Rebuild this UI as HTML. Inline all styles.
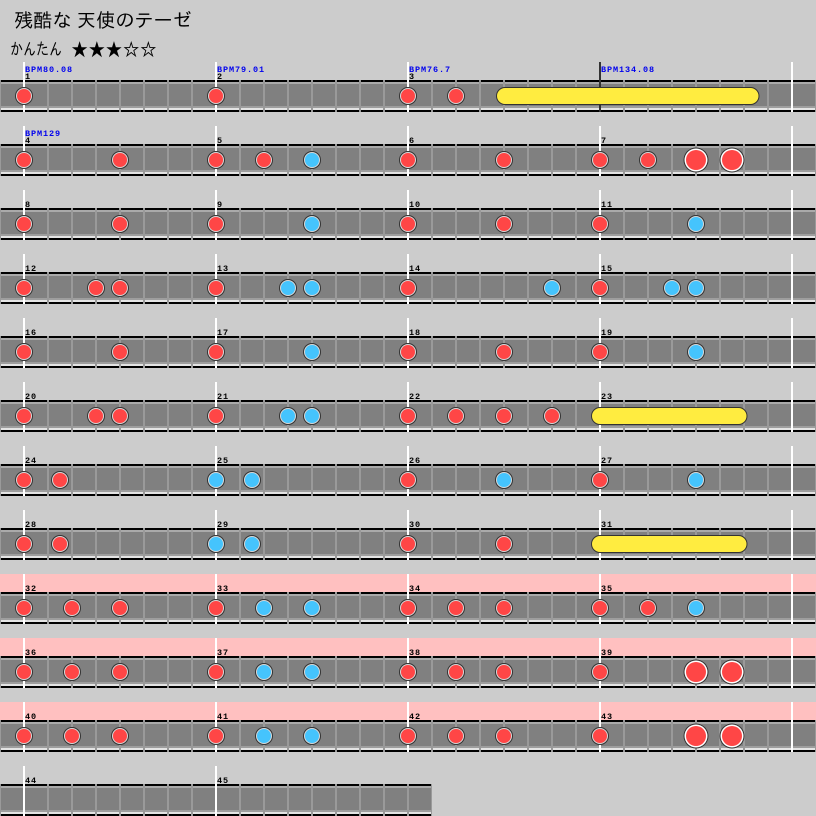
<!DOCTYPE html>
<html><head><meta charset="utf-8"><style>
html,body{margin:0;padding:0;background:#cccccc;}
svg{display:block}
.m{font-family:"Liberation Mono",monospace;font-size:8.5px;font-weight:bold;letter-spacing:0.9px;fill:#000}
.bp{font-family:"Liberation Mono",monospace;font-size:8.5px;font-weight:bold;letter-spacing:0.9px;fill:#0000ee}
.t{font-family:"Liberation Sans","IPAGothic","Noto Sans CJK JP",sans-serif;fill:#000}
</style></head><body>
<svg width="816" height="816" viewBox="0 0 816 816" xmlns="http://www.w3.org/2000/svg">
<defs>
<g id="lane">
<rect x="0" y="0" width="816" height="2" fill="#000"/>
<rect x="0" y="2" width="816" height="2" fill="#aaaaaa"/>
<rect x="0" y="4" width="816" height="22" fill="#808080"/>
<rect x="0" y="26" width="816" height="2" fill="#9e9e9e"/>
<rect x="0" y="28" width="816" height="2" fill="#e4e4e4"/>
<rect x="0" y="30" width="816" height="2" fill="#000"/>
<path d="M0 0V32M24 0V32M48 0V32M72 0V32M96 0V32M120 0V32M144 0V32M168 0V32M192 0V32M216 0V32M240 0V32M264 0V32M288 0V32M312 0V32M336 0V32M360 0V32M384 0V32M408 0V32M432 0V32M456 0V32M480 0V32M504 0V32M528 0V32M552 0V32M576 0V32M600 0V32M624 0V32M648 0V32M672 0V32M696 0V32M720 0V32M744 0V32M768 0V32M792 0V32M816 0V32" stroke="#9a9a9a" stroke-width="2"/>
</g>
<path id="bars" d="M24 -18V32M216 -18V32M408 -18V32M600 -18V32M792 -18V32" stroke="#fff" stroke-width="2"/>
<g id="r"><circle r="9" fill="#333"/><circle r="8" fill="#d8d8d8"/><circle r="7" fill="#ff4646"/></g>
<g id="b"><circle r="9" fill="#333"/><circle r="8" fill="#d8d8d8"/><circle r="7" fill="#45c4fd"/></g>
<g id="R"><circle r="12.5" fill="#333"/><circle r="11.5" fill="#ffffff"/><circle r="10" fill="#ff4646"/></g>
<clipPath id="c13"><rect x="0" y="0" width="432" height="816"/></clipPath>
</defs>

<rect x="0" y="0" width="816" height="816" fill="#cccccc"/>

<!-- title -->
<text class="t" x="14" y="27" font-size="19" textLength="178" lengthAdjust="spacingAndGlyphs">残酷な 天使のテーゼ</text>
<text class="t" x="10" y="55" font-size="17" textLength="52" lengthAdjust="spacingAndGlyphs">かんたん</text>
<text class="t" x="71" y="56" font-size="18" textLength="86" lengthAdjust="spacingAndGlyphs">★★★☆☆</text>

<!-- pink gogo bands -->
<rect x="0" y="574" width="816" height="18" fill="#ffc0c0"/>
<rect x="0" y="638" width="816" height="18" fill="#ffc0c0"/>
<rect x="0" y="702" width="816" height="18" fill="#ffc0c0"/>

<!-- lanes -->
<use href="#lane" x="0" y="80"/>
<use href="#lane" x="0" y="144"/>
<use href="#lane" x="0" y="208"/>
<use href="#lane" x="0" y="272"/>
<use href="#lane" x="0" y="336"/>
<use href="#lane" x="0" y="400"/>
<use href="#lane" x="0" y="464"/>
<use href="#lane" x="0" y="528"/>
<use href="#lane" x="0" y="592"/>
<use href="#lane" x="0" y="656"/>
<use href="#lane" x="0" y="720"/>
<g clip-path="url(#c13)"><use href="#lane" x="0" y="784"/></g>

<!-- bar lines -->
<path d="M24 62V112M216 62V112M408 62V112M792 62V112" stroke="#fff" stroke-width="2"/>
<path d="M600 62V112" stroke="#333" stroke-width="2"/>
<use href="#bars" x="0" y="144"/>
<use href="#bars" x="0" y="208"/>
<use href="#bars" x="0" y="272"/>
<use href="#bars" x="0" y="336"/>
<use href="#bars" x="0" y="400"/>
<use href="#bars" x="0" y="464"/>
<use href="#bars" x="0" y="528"/>
<use href="#bars" x="0" y="592"/>
<use href="#bars" x="0" y="656"/>
<use href="#bars" x="0" y="720"/>
<path d="M24 766V816M216 766V816" stroke="#fff" stroke-width="2"/>

<!-- labels -->
<text class="bp" x="25" y="72">BPM80.08</text>
<text class="bp" x="217" y="72">BPM79.01</text>
<text class="bp" x="409" y="72">BPM76.7</text>
<text class="bp" x="601" y="72">BPM134.08</text>
<text class="m" x="25" y="79">1</text>
<text class="m" x="217" y="79">2</text>
<text class="m" x="409" y="79">3</text>

<text class="bp" x="25" y="136">BPM129</text>
<text class="m" x="25" y="143">4</text><text class="m" x="217" y="143">5</text><text class="m" x="409" y="143">6</text><text class="m" x="601" y="143">7</text>
<text class="m" x="25" y="207">8</text><text class="m" x="217" y="207">9</text><text class="m" x="409" y="207">10</text><text class="m" x="601" y="207">11</text>
<text class="m" x="25" y="271">12</text><text class="m" x="217" y="271">13</text><text class="m" x="409" y="271">14</text><text class="m" x="601" y="271">15</text>
<text class="m" x="25" y="335">16</text><text class="m" x="217" y="335">17</text><text class="m" x="409" y="335">18</text><text class="m" x="601" y="335">19</text>
<text class="m" x="25" y="399">20</text><text class="m" x="217" y="399">21</text><text class="m" x="409" y="399">22</text><text class="m" x="601" y="399">23</text>
<text class="m" x="25" y="463">24</text><text class="m" x="217" y="463">25</text><text class="m" x="409" y="463">26</text><text class="m" x="601" y="463">27</text>
<text class="m" x="25" y="527">28</text><text class="m" x="217" y="527">29</text><text class="m" x="409" y="527">30</text><text class="m" x="601" y="527">31</text>
<text class="m" x="25" y="591">32</text><text class="m" x="217" y="591">33</text><text class="m" x="409" y="591">34</text><text class="m" x="601" y="591">35</text>
<text class="m" x="25" y="655">36</text><text class="m" x="217" y="655">37</text><text class="m" x="409" y="655">38</text><text class="m" x="601" y="655">39</text>
<text class="m" x="25" y="719">40</text><text class="m" x="217" y="719">41</text><text class="m" x="409" y="719">42</text><text class="m" x="601" y="719">43</text>
<text class="m" x="25" y="783">44</text><text class="m" x="217" y="783">45</text>

<!-- rolls -->
<rect x="496.5" y="87.5" width="262.5" height="17" rx="8.5" fill="#ffec40" stroke="#333" stroke-width="1"/>
<rect x="591.5" y="407.5" width="155.5" height="17" rx="8.5" fill="#ffec40" stroke="#333" stroke-width="1"/>
<rect x="591.5" y="535.5" width="155.5" height="17" rx="8.5" fill="#ffec40" stroke="#333" stroke-width="1"/>

<!-- row 0 -->
<use href="#r" x="24" y="96"/><use href="#r" x="216" y="96"/><use href="#r" x="408" y="96"/><use href="#r" x="456" y="96"/>
<!-- row 1 -->
<use href="#r" x="24" y="160"/><use href="#r" x="120" y="160"/><use href="#r" x="216" y="160"/><use href="#r" x="264" y="160"/><use href="#b" x="312" y="160"/><use href="#r" x="408" y="160"/><use href="#r" x="504" y="160"/><use href="#r" x="600" y="160"/><use href="#r" x="648" y="160"/><use href="#R" x="696" y="160"/><use href="#R" x="732" y="160"/>
<!-- row 2 -->
<use href="#r" x="24" y="224"/><use href="#r" x="120" y="224"/><use href="#r" x="216" y="224"/><use href="#b" x="312" y="224"/><use href="#r" x="408" y="224"/><use href="#r" x="504" y="224"/><use href="#r" x="600" y="224"/><use href="#b" x="696" y="224"/>
<!-- row 3 -->
<use href="#r" x="24" y="288"/><use href="#r" x="96" y="288"/><use href="#r" x="120" y="288"/><use href="#r" x="216" y="288"/><use href="#b" x="288" y="288"/><use href="#b" x="312" y="288"/><use href="#r" x="408" y="288"/><use href="#b" x="552" y="288"/><use href="#r" x="600" y="288"/><use href="#b" x="672" y="288"/><use href="#b" x="696" y="288"/>
<!-- row 4 -->
<use href="#r" x="24" y="352"/><use href="#r" x="120" y="352"/><use href="#r" x="216" y="352"/><use href="#b" x="312" y="352"/><use href="#r" x="408" y="352"/><use href="#r" x="504" y="352"/><use href="#r" x="600" y="352"/><use href="#b" x="696" y="352"/>
<!-- row 5 -->
<use href="#r" x="24" y="416"/><use href="#r" x="96" y="416"/><use href="#r" x="120" y="416"/><use href="#r" x="216" y="416"/><use href="#b" x="288" y="416"/><use href="#b" x="312" y="416"/><use href="#r" x="408" y="416"/><use href="#r" x="456" y="416"/><use href="#r" x="504" y="416"/><use href="#r" x="552" y="416"/>
<!-- row 6 -->
<use href="#r" x="24" y="480"/><use href="#r" x="60" y="480"/><use href="#b" x="216" y="480"/><use href="#b" x="252" y="480"/><use href="#r" x="408" y="480"/><use href="#b" x="504" y="480"/><use href="#r" x="600" y="480"/><use href="#b" x="696" y="480"/>
<!-- row 7 -->
<use href="#r" x="24" y="544"/><use href="#r" x="60" y="544"/><use href="#b" x="216" y="544"/><use href="#b" x="252" y="544"/><use href="#r" x="408" y="544"/><use href="#r" x="504" y="544"/>
<!-- row 8 -->
<use href="#r" x="24" y="608"/><use href="#r" x="72" y="608"/><use href="#r" x="120" y="608"/><use href="#r" x="216" y="608"/><use href="#b" x="264" y="608"/><use href="#b" x="312" y="608"/><use href="#r" x="408" y="608"/><use href="#r" x="456" y="608"/><use href="#r" x="504" y="608"/><use href="#r" x="600" y="608"/><use href="#r" x="648" y="608"/><use href="#b" x="696" y="608"/>
<!-- row 9 -->
<use href="#r" x="24" y="672"/><use href="#r" x="72" y="672"/><use href="#r" x="120" y="672"/><use href="#r" x="216" y="672"/><use href="#b" x="264" y="672"/><use href="#b" x="312" y="672"/><use href="#r" x="408" y="672"/><use href="#r" x="456" y="672"/><use href="#r" x="504" y="672"/><use href="#r" x="600" y="672"/><use href="#R" x="696" y="672"/><use href="#R" x="732" y="672"/>
<!-- row 10 -->
<use href="#r" x="24" y="736"/><use href="#r" x="72" y="736"/><use href="#r" x="120" y="736"/><use href="#r" x="216" y="736"/><use href="#b" x="264" y="736"/><use href="#b" x="312" y="736"/><use href="#r" x="408" y="736"/><use href="#r" x="456" y="736"/><use href="#r" x="504" y="736"/><use href="#r" x="600" y="736"/><use href="#R" x="696" y="736"/><use href="#R" x="732" y="736"/>
</svg>
</body></html>
